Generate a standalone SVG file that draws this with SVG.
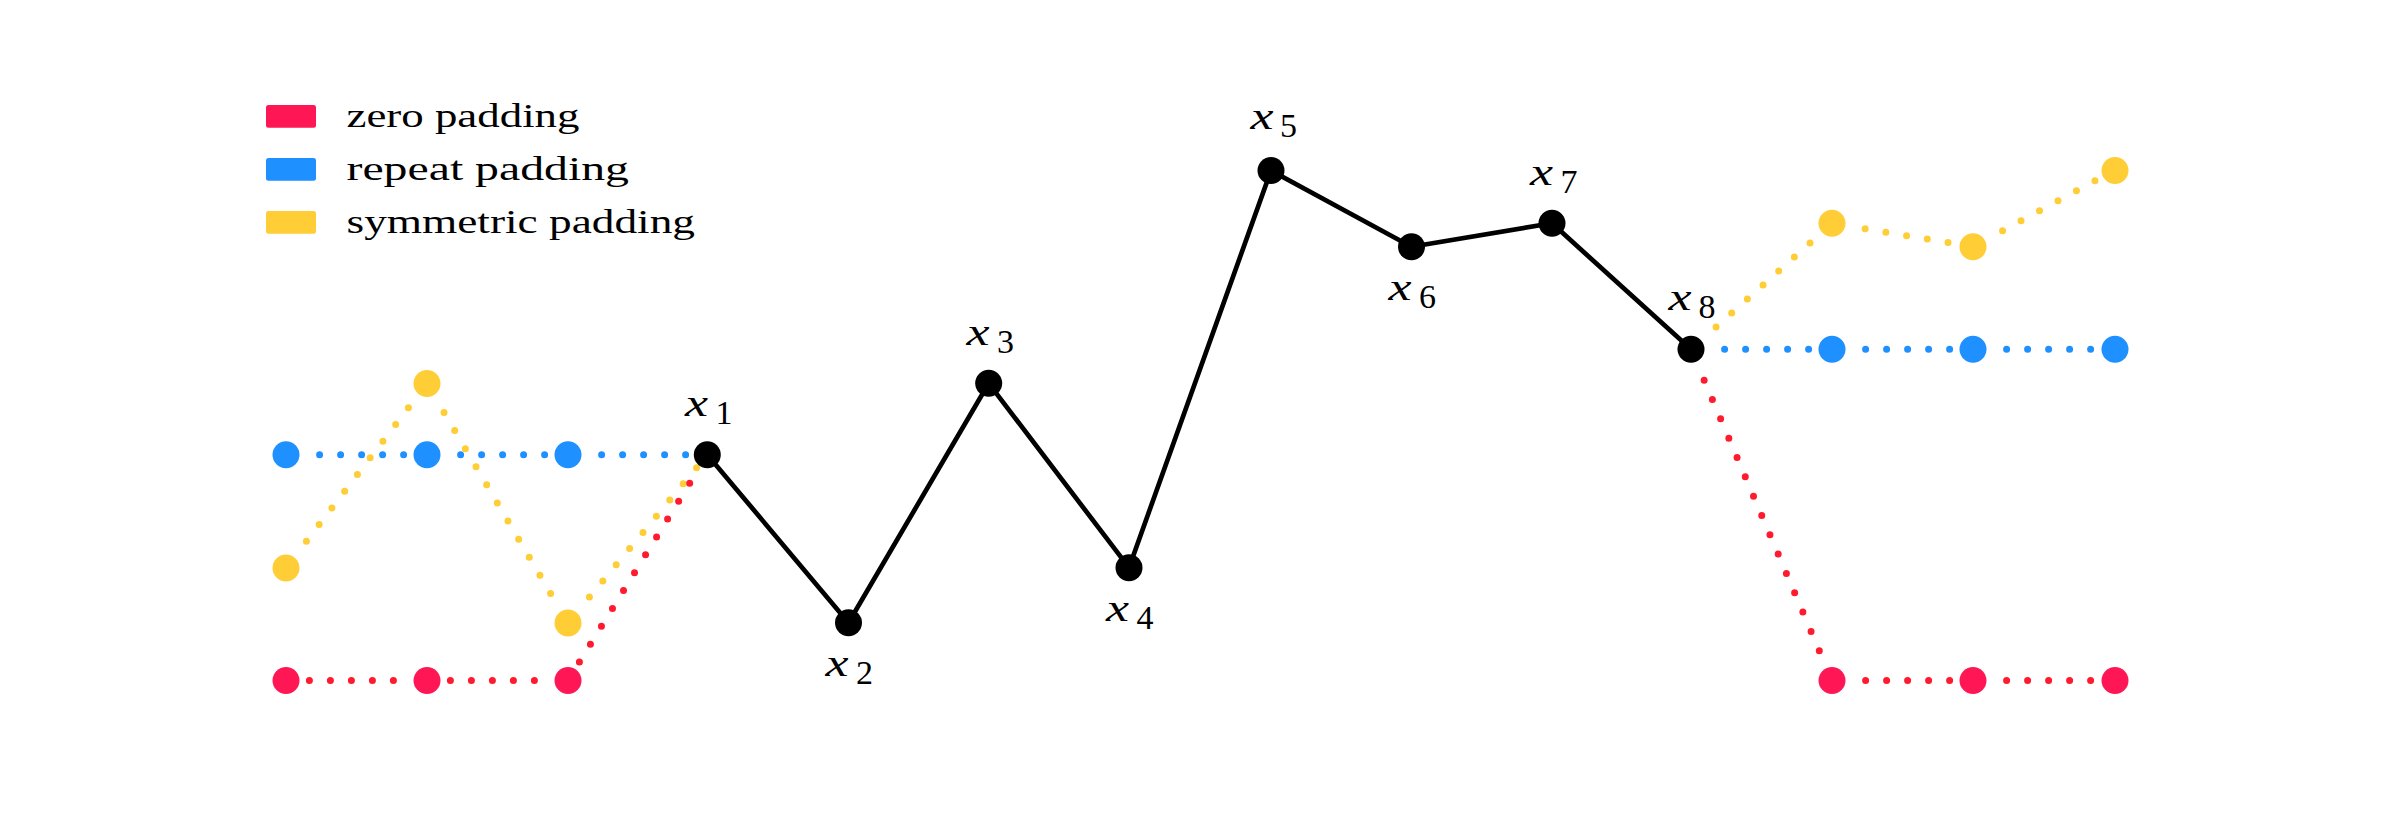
<svg xmlns="http://www.w3.org/2000/svg" width="2398" height="816" viewBox="0 0 2398 816">
<style>
.bg{fill:#ffffff}
.leg{font-family:"Liberation Serif","Times New Roman",serif;font-size:34px;fill:#000}
.var{font-family:"Liberation Serif","Times New Roman",serif;font-style:italic;font-size:38px;fill:#000}
.sub{font-family:"Liberation Serif","Times New Roman",serif;font-size:34px;fill:#000}
.dot{fill:none;stroke-width:7;stroke-linecap:round;stroke-dasharray:0 33.6 0 21 0 21 0 21 0 21 0 21 0 21 0 21 0 21 0 21 0 21 0 21 0 21 0 21 0 21 0 21 0 21 0 21 0 21 0 21 0 2000}
.dz{stroke:#FF1A2E}
.dr{stroke:#1E90FF}
.ds{stroke:#FFCD35}
.nz{fill:#FF1654}
.nr{fill:#1E90FF}
.ns{fill:#FFCD35}
.nd{fill:#000}
.data{fill:none;stroke:#000;stroke-width:4.7;stroke-linejoin:round}
</style>
<rect class="bg" x="0" y="0" width="2398" height="816"/>

<g id="legend">
  <rect x="266" y="105" width="50" height="22.7" rx="2.5" class="nz"/>
  <text class="leg" x="346.5" y="126.7" textLength="233" lengthAdjust="spacingAndGlyphs">zero padding</text>
  <rect x="266" y="158" width="50" height="22.7" rx="2.5" class="nr"/>
  <text class="leg" x="346.5" y="179.7" textLength="282.5" lengthAdjust="spacingAndGlyphs">repeat padding</text>
  <rect x="266" y="211" width="50" height="22.7" rx="2.5" class="ns"/>
  <text class="leg" x="346.5" y="232.7" textLength="348.5" lengthAdjust="spacingAndGlyphs">symmetric padding</text>
</g>

<g id="connectors">
  <!-- symmetric padding (left) -->
  <line class="dot ds" x1="286" y1="568" x2="417.9" y2="395.4"/>
  <line class="dot ds" x1="427" y1="383.5" x2="560.4" y2="610.1"/>
  <line class="dot ds" x1="568" y1="623" x2="697.7" y2="466.3"/>
  <!-- repeat padding (left) -->
  <line class="dot dr" x1="286" y1="454.7" x2="412" y2="454.7"/>
  <line class="dot dr" x1="427" y1="454.7" x2="553" y2="454.7"/>
  <line class="dot dr" x1="568" y1="454.7" x2="692.3" y2="454.7"/>
  <!-- zero padding (left) -->
  <line class="dot dz" x1="707.3" y1="454.7" x2="575.9" y2="667.7"/>
  <line class="dot dz" x1="568" y1="680.5" x2="442" y2="680.5"/>
  <line class="dot dz" x1="427" y1="680.5" x2="301" y2="680.5"/>
  <!-- symmetric padding (right) -->
  <line class="dot ds" x1="1691" y1="349.3" x2="1820.8" y2="233.3"/>
  <line class="dot ds" x1="1832" y1="223.3" x2="1958.2" y2="244.2"/>
  <line class="dot ds" x1="1973" y1="246.7" x2="2101.8" y2="177.1"/>
  <!-- repeat padding (right) -->
  <line class="dot dr" x1="1691" y1="349.3" x2="1817" y2="349.3"/>
  <line class="dot dr" x1="1832" y1="349.3" x2="1958" y2="349.3"/>
  <line class="dot dr" x1="1973" y1="349.3" x2="2100" y2="349.3"/>
  <!-- zero padding (right) -->
  <line class="dot dz" x1="1691" y1="349.3" x2="1826.1" y2="666.7"/>
  <line class="dot dz" x1="1832" y1="680.5" x2="1958" y2="680.5"/>
  <line class="dot dz" x1="1973" y1="680.5" x2="2100" y2="680.5"/>
  <!-- data signal -->
  <polyline class="data" points="707.3,454.7 848.5,622.7 988.7,383.3 1129,567.7 1271,170.5 1411.5,246.7 1552,223.3 1691,349.3"/>
</g>

<g id="pad-left">
  <circle id="pz-3" class="nz" cx="286" cy="680.5" r="13.5"/>
  <circle id="pz-2" class="nz" cx="427" cy="680.5" r="13.5"/>
  <circle id="pz-1" class="nz" cx="568" cy="680.5" r="13.5"/>
  <circle id="pr-3" class="nr" cx="286" cy="454.7" r="13.5"/>
  <circle id="pr-2" class="nr" cx="427" cy="454.7" r="13.5"/>
  <circle id="pr-1" class="nr" cx="568" cy="454.7" r="13.5"/>
  <circle id="ps-3" class="ns" cx="286" cy="568" r="13.5"/>
  <circle id="ps-2" class="ns" cx="427" cy="383.5" r="13.5"/>
  <circle id="ps-1" class="ns" cx="568" cy="623" r="13.5"/>
</g>
<g id="pad-right">
  <circle id="pz+1" class="nz" cx="1832" cy="680.5" r="13.5"/>
  <circle id="pz+2" class="nz" cx="1973" cy="680.5" r="13.5"/>
  <circle id="pz+3" class="nz" cx="2115" cy="680.5" r="13.5"/>
  <circle id="pr+1" class="nr" cx="1832" cy="349.3" r="13.5"/>
  <circle id="pr+2" class="nr" cx="1973" cy="349.3" r="13.5"/>
  <circle id="pr+3" class="nr" cx="2115" cy="349.3" r="13.5"/>
  <circle id="ps+1" class="ns" cx="1832" cy="223.3" r="13.5"/>
  <circle id="ps+2" class="ns" cx="1973" cy="246.7" r="13.5"/>
  <circle id="ps+3" class="ns" cx="2115" cy="170.5" r="13.5"/>
</g>

<g id="x1">
  <circle class="nd" cx="707.3" cy="454.7" r="13.5"/>
  <text class="var" x="685" y="416" textLength="23" lengthAdjust="spacingAndGlyphs">x</text>
  <text class="sub" x="715.5" y="424.3">1</text>
</g>
<g id="x2">
  <circle class="nd" cx="848.5" cy="622.7" r="13.5"/>
  <text class="var" x="825.5" y="675.7" textLength="23" lengthAdjust="spacingAndGlyphs">x</text>
  <text class="sub" x="856" y="683.5">2</text>
</g>
<g id="x3">
  <circle class="nd" cx="988.7" cy="383.3" r="13.5"/>
  <text class="var" x="966.5" y="344.5" textLength="23" lengthAdjust="spacingAndGlyphs">x</text>
  <text class="sub" x="997" y="352.8">3</text>
</g>
<g id="x4">
  <circle class="nd" cx="1129" cy="567.7" r="13.5"/>
  <text class="var" x="1106" y="620.7" textLength="23" lengthAdjust="spacingAndGlyphs">x</text>
  <text class="sub" x="1136.5" y="628.5">4</text>
</g>
<g id="x5">
  <circle class="nd" cx="1271" cy="170.5" r="13.5"/>
  <text class="var" x="1250.5" y="128.5" textLength="23" lengthAdjust="spacingAndGlyphs">x</text>
  <text class="sub" x="1280" y="136.5">5</text>
</g>
<g id="x6">
  <circle class="nd" cx="1411.5" cy="246.7" r="13.5"/>
  <text class="var" x="1388.5" y="299.7" textLength="23" lengthAdjust="spacingAndGlyphs">x</text>
  <text class="sub" x="1419" y="307.5">6</text>
</g>
<g id="x7">
  <circle class="nd" cx="1552" cy="223.3" r="13.5"/>
  <text class="var" x="1530" y="184.5" textLength="23" lengthAdjust="spacingAndGlyphs">x</text>
  <text class="sub" x="1560.5" y="192.8">7</text>
</g>
<g id="x8">
  <circle class="nd" cx="1691" cy="349.3" r="13.5"/>
  <text class="var" x="1668.5" y="309.5" textLength="23" lengthAdjust="spacingAndGlyphs">x</text>
  <text class="sub" x="1698.5" y="317.8">8</text>
</g>
</svg>
